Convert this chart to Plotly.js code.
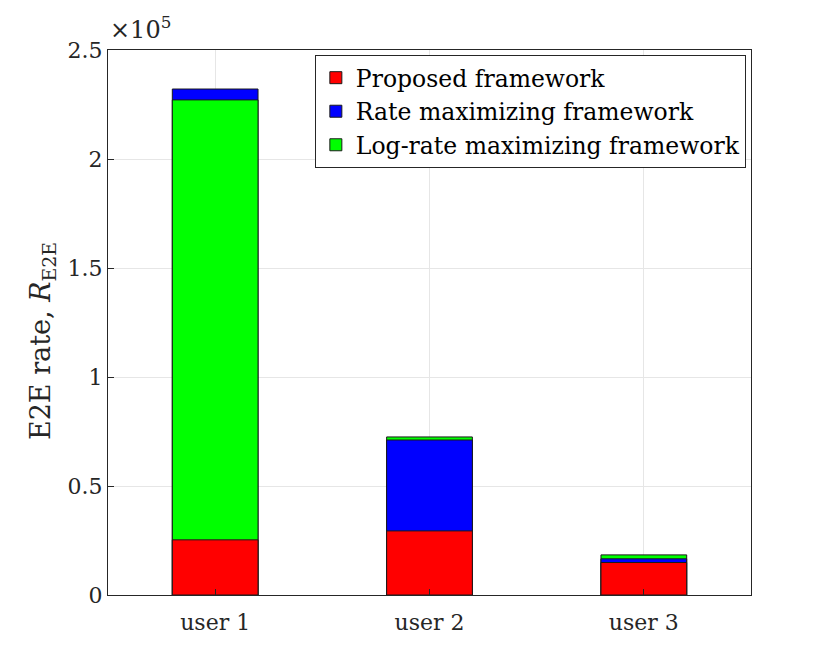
<!DOCTYPE html>
<html>
<head>
<meta charset="utf-8">
<script src="https://cdn.plot.ly/plotly-3.0.1.min.js"></script>
<style>
  html, body { margin: 0; padding: 0; background: #fff; }
  #chart { width: 830px; height: 669px; }
</style>
</head>
<body>
<div id="chart"></div>
<script>
// E2E rate per user for each framework
let users = ["user 1", "user 2", "user 3"]
let proposed = [25300, 29400, 14900]
let rateMax = [232100, 71100, 16600]
let logRateMax = [227100, 72500, 18400]

let frameworks = [
    { name: "Proposed framework", values: proposed, color: "#ff0000", rank: 1 },
    { name: "Rate maximizing framework", values: rateMax, color: "#0000ff", rank: 2 },
    { name: "Log-rate maximizing framework", values: logRateMax, color: "#00ff00", rank: 3 }
]

let yTickVals = [0, 50000, 100000, 150000, 200000, 250000]
let yTickText = ["0", "0.5", "1", "1.5", "2", "2.5"]

let font = "DejaVu Serif"
let axisColor = "#262626"
let gridColor = "#e6e6e6"

// bars are drawn over each other, tallest first, so every one stays visible
let traces = []
let shown = {}
users.forEach((user, i) => {
    let order = frameworks.slice().sort((a, b) => b.values[i] - a.values[i])
    order.forEach(fw => {
        traces.push({
            type: "bar",
            x: [user],
            y: [fw.values[i]],
            name: fw.name,
            legendgroup: fw.name,
            legendrank: fw.rank,
            showlegend: !shown[fw.name],
            width: 0.4,
            marker: { color: fw.color, line: { color: "#1a1a1a", width: 1 } },
            hoverinfo: "x+y+name"
        })
        shown[fw.name] = true
    })
})

let layout = {
    width: 830,
    height: 669,
    margin: { l: 108, r: 79, t: 50, b: 73.5 },
    paper_bgcolor: "#fff",
    plot_bgcolor: "#fff",
    barmode: "overlay",
    font: { family: font, size: 22, color: axisColor },
    xaxis: {
        type: "category",
        range: [-0.5, 2.5],
        showgrid: true,
        gridcolor: gridColor,
        ticks: "inside",
        ticklen: 6,
        tickcolor: axisColor,
        showline: true,
        linecolor: axisColor,
        linewidth: 1,
        mirror: true,
        ticklabelstandoff: 8,
        tickfont: { family: font, size: 22, color: axisColor },
        zeroline: false
    },
    yaxis: {
        range: [0, 250000],
        tickvals: yTickVals,
        ticktext: yTickText,
        showgrid: true,
        gridcolor: gridColor,
        ticks: "inside",
        ticklen: 6,
        tickcolor: axisColor,
        showline: true,
        linecolor: axisColor,
        linewidth: 1,
        mirror: true,
        zeroline: false,
        tickfont: { family: font, size: 22, color: axisColor }
    },
    legend: {
        x: 0.992,
        xanchor: "right",
        y: 0.991,
        yanchor: "top",
        bgcolor: "#fff",
        bordercolor: axisColor,
        borderwidth: 1,
        font: { family: font, size: 23.5, color: "#000" },
        tracegroupgap: 0,
        itemwidth: 30
    },
    annotations: [{
        xref: "paper",
        yref: "paper",
        x: 0,
        y: 1,
        xanchor: "left",
        yanchor: "bottom",
        yshift: 4,
        showarrow: false,
        text: "×10<sup>5</sup>",
        font: { family: font, size: 24, color: axisColor }
    }, {
        // y-axis title, placed by hand like the reference
        xref: "paper",
        yref: "paper",
        x: 0,
        y: 0.466,
        xshift: -66,
        xanchor: "center",
        yanchor: "middle",
        textangle: -90,
        showarrow: false,
        text: "E2E rate, <i>R</i><sub>E2E</sub>",
        font: { family: font, size: 27, color: axisColor }
    }]
}

Plotly.newPlot("chart", traces, layout, { displayModeBar: false, staticPlot: true })
</script>
</body>
</html>
